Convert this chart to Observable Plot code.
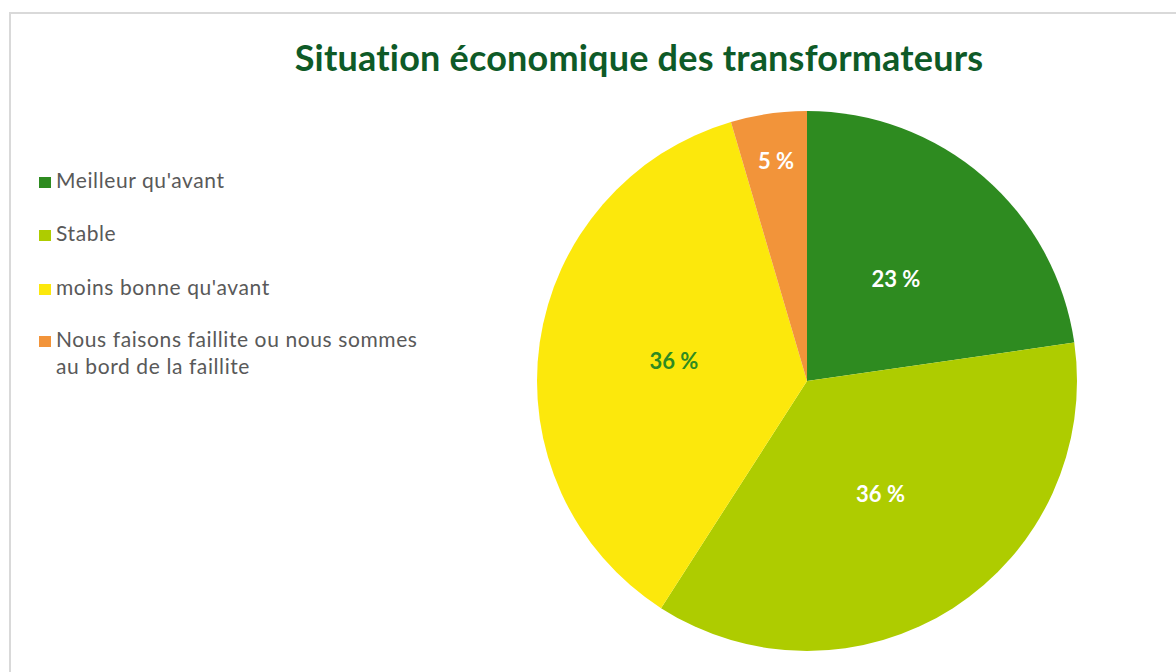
<!DOCTYPE html>
<html><head><meta charset="utf-8">
<script src="https://cdn.jsdelivr.net/npm/d3@7"></script>
<script src="https://cdn.jsdelivr.net/npm/@observablehq/plot@0.6"></script>
<style>
body{margin:0;background:#fff;width:1176px;height:672px;overflow:hidden;position:relative;font-family:Lato,"Open Sans",sans-serif;font-variant-ligatures:none}
#frame{position:absolute;left:9px;top:12px;width:1200px;height:700px;border-left:2px solid #d9d9d9;border-top:2px solid #d9d9d9;box-sizing:border-box}
#chart{position:absolute;left:0;top:0}
#title{position:absolute;left:0;width:1278px;top:40px;text-align:center;font-size:36px;line-height:35px;font-weight:700;letter-spacing:0.2px;color:#0E5A27;white-space:nowrap}
.item{position:absolute;left:56px;width:368px;font-size:21px;line-height:27px;letter-spacing:0.6px;color:#595959}
.sw{position:absolute;left:-17px;top:10.5px;width:12px;height:11px}
</style></head>
<body>
<div id="frame"></div>
<div id="chart"></div>
<div id="title">Situation économique des transformateurs</div>
<div id="legend"></div>
<script>
const categories = ["Meilleur qu'avant", "Stable", "moins bonne qu'avant", "Nous faisons faillite ou nous sommes au bord de la faillite"];
const counts = [5, 8, 8, 1];
const colors = ["#2E8B20", "#AECC00", "#FCE80C", "#F2943A"];
const labelColors = ["#ffffff", "#ffffff", "#2E8B20", "#ffffff"];

const total = d3.sum(counts);
const data = categories.map((c, i) => ({category: c, value: counts[i], color: colors[i], labelColor: labelColors[i]}));
const arcs = d3.pie().sort(null).value(d => d.value)(data);
const labels = arcs.map(a => {
  const ang = (a.startAngle + a.endAngle) / 2;
  const f = a.data.value / total < 0.1 ? 0.82 : 0.5;
  return {x: f * Math.sin(ang), y: f * Math.cos(ang), text: Math.round(a.data.value / total * 100) + " %", fill: a.data.labelColor};
});

const pieMark = (index, scales, values, dimensions) => {
  const cx = scales.x(0), cy = scales.y(0);
  const R = scales.x(1) - scales.x(0);
  const arc = d3.arc().innerRadius(0).outerRadius(R);
  const g = d3.create("svg:g").attr("transform", `translate(${cx},${cy})`);
  g.selectAll("path").data(arcs).join("path")
    .attr("d", arc)
    .attr("fill", d => d.data.color);
  return g.node();
};

const plot = Plot.plot({
  width: 1176,
  height: 672,
  margin: 0,
  x: {domain: [-1, 1], range: [537, 1077], axis: null},
  y: {domain: [-1, 1], range: [651, 111], axis: null},
  style: {background: "transparent", overflow: "visible"},
  marks: [
    pieMark,
    Plot.text(labels, {x: "x", y: "y", text: "text", fill: "fill", fontSize: 22, fontWeight: 700, fontFamily: "Lato, sans-serif"})
  ]
});
document.getElementById("chart").appendChild(plot);

const baselines = [188, 241, 295, 347];
const legend = document.getElementById("legend");
categories.forEach((c, i) => {
  const div = document.createElement("div");
  div.className = "item";
  div.style.top = (baselines[i] - 21.6) + "px";
  div.innerHTML = `<span class="sw" style="background:${colors[i]}"></span>`;
  div.appendChild(document.createTextNode(c));
  legend.appendChild(div);
});
</script>
</body></html>
